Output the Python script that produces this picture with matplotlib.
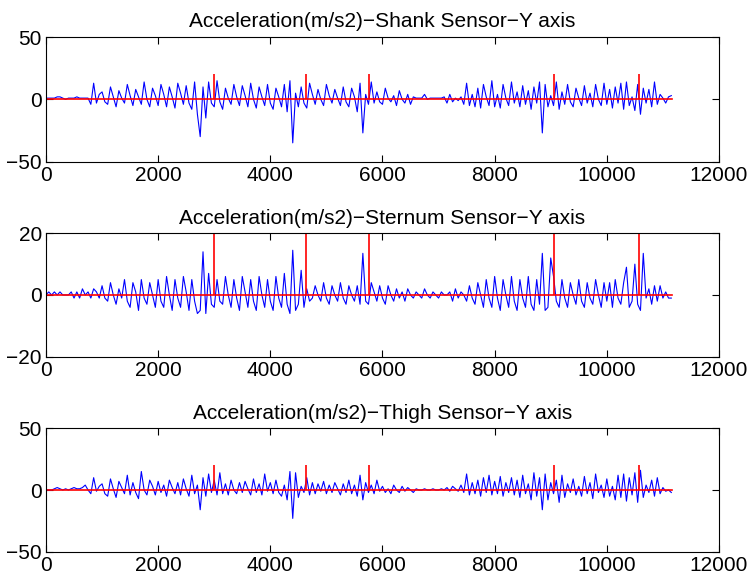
import numpy as np
import matplotlib
matplotlib.use("Agg")
from matplotlib import pyplot as plt

plt.rcParams['font.family'] = ['Liberation Sans', 'DejaVu Sans']

step = 50  # samples between read-off points

shank = [1, 1, 1, 1, 2, 2, 1, 0, 1, 1, 1, 2, 1, 1, 1, 1, -4, 13, -3, 4,
         6, -2, -4, 10, 2, -6, 7, 1, -3, 12, 3, -5, 8, 2, -4, 14, 0, -6, 9, 3,
         -5, 12, 4, -6, 10, 2, -7, 13, 5, -4, 11, -3, -8, 14, -12, -30, 10, -15, 14, -3,
         -6, 15, -2, -8, 9, 1, -4, 12, 2, -5, 11, 3, -6, 13, 0, -7, 10, 2, -5, 12,
         -3, -8, 9, 2, -6, 12, -10, 15, -35, 5, -6, 10, -3, -7, 13, 4, -4, 8, 0, -5,
         12, 3, -3, 8, 1, -5, 10, -2, -6, 9, 2, -10, 13, -27, 4, -4, 14, -3, 6, -2,
         -4, 9, 1, -2, 3, -5, 7, 0, -3, 4, -4, 2, 1, 1, 1, 4, 0, 1, 1, 1,
         1, 1, 2, -3, 4, -2, 1, -1, 2, -4, 13, -5, 4, -6, 9, -7, 12, 2, -5, 15,
         -6, 4, -7, 12, 1, -5, 14, -3, 6, -6, 11, -4, 7, -8, 10, -3, 14, -27, 12, -6,
         3, -5, 14, -8, 6, -4, 12, -2, -6, 9, 1, -5, 11, -3, 5, -6, 12, 0, -5, 13,
         -4, 8, -7, 10, -3, 13, -8, 14, -5, 2, -9, 12, -12, 9, -3, 8, -6, 14, -4, 4,
         1, -3, 2, 3]

sternum = [0, 1, 0, 1, 0, 1, 0, 0, 0, 1, -1, 1, -1, 2, 0, 1, -1, 2, 1, -1,
           3, -1, -2, 4, 0, -3, 2, -1, 5, -2, -4, 4, 1, -5, 5, -1, -3, 4, 0, -4,
           5, -2, -4, 6, 0, -5, 5, -1, -4, 6, 1, -5, 5, -2, -6, -5, 14, -6, 7, -3,
           -4, 5, -2, -3, 6, 0, -4, 5, -1, -5, 6, 1, -4, 5, -2, -5, 6, 0, -4, 5,
           -2, -5, 6, -1, -4, 7, -3, -6, 14.5, -5, -3, 8, -4, 2, -2, -1, 3, 0, -2, 4,
           -1, -3, 3, 0, -2, 4, -1, -3, 3, 0, -2, 3, -3, 13.5, -2, -3, 4, 1, -2, 3,
           -1, -3, 3, 0, -2, 2, -1, 1, -2, 2, 0, -1, 1, 0, -1, 2, 0, -1, 1, 0,
           -1, 1, 0, 0, 1, -2, 2, -1, 1, 0, -2, 3, -1, -3, 4, 0, -4, 5, -1, -4,
           6, -1, -5, 5, 0, -4, 6, -2, -5, 5, -1, -4, 6, -3, -5, 5, -3, 13.5, -5, -4,
           12, 6, -2, -4, 5, -1, -4, 4, 0, -3, 5, -2, -4, 4, -1, -3, 5, 0, -4, 4,
           -2, 4, -4, 5, -1, -3, 4, 9, -4, -2, 10, -3, -5, 13.5, -1, 2, -3, 3, -2, 3,
           -1, 1, -1, -1]

thigh = [0, 0, 0, 1, 2, 1, 0, 1, 0, 1, 2, 1, 1, 2, 4, 0, -3, 10, -1, 3,
         5, -3, -5, 9, 1, -6, 7, 2, -3, 12, -4, 6, -2, -7, 15, 0, -4, 8, 3, -4,
         7, -2, 4, -5, 8, 2, -3, 6, -4, 9, 1, -5, 12, -3, 4, -16, 10, -5, 13, -2,
         8, -4, 14, -3, 5, -4, 8, 0, -3, 6, -2, 7, 1, -4, 9, -2, 5, -4, 13, -1,
         6, -3, 8, -2, -5, 4, -8, 15, -23, 14, -6, 3, -2, 10, -4, 6, -3, 5, -1, 7,
         -3, 4, -2, 6, 1, -4, 5, -2, 8, -3, 4, -5, 12, -8, 6, -2, 4, -3, 8, -1,
         3, -2, 1, -3, 4, 0, -2, 3, -1, 2, 0, -2, 1, 0, 0, 1, 0, 0, 1, 0,
         0, 1, 0, 2, -1, 3, 1, -1, 4, -2, 13, -4, 6, -3, 8, -5, 10, -2, 12, -4,
         7, -3, 11, -5, 6, -2, 10, -4, 8, -6, 12, -3, 5, -8, 14, -5, 10, -16, 13, -8,
         6, -3, 8, -10, 12, -6, 5, -2, 9, -4, 3, -5, 11, -3, 6, -7, 13, -2, 4, -6,
         9, -5, 3, -8, 12, -6, 13, -9, 10, -4, 14, -10, 16, -6, 4, -2, 8, -5, 10, -3,
         2, -1, 0, -2]

# red marker line: spikes of height 20 at these samples
marks = [0, 2990, 4630, 5760, 9060, 10570]
mark_h = 20
end_x = 11160

titles = ['Acceleration(m/s2)\u2212Shank Sensor\u2212Y axis',
          'Acceleration(m/s2)\u2212Sternum Sensor\u2212Y axis',
          'Acceleration(m/s2)\u2212Thigh Sensor\u2212Y axis']
ylims = [(-50, 50), (-20, 20), (-50, 50)]
yticks = [[-50, 0, 50], [-20, 0, 20], [-50, 0, 50]]

fig = plt.figure(figsize=(7.55, 5.86), dpi=100)
boxes = [[0.0609, 0.7244, 0.8914, 0.2121],
         [0.0609, 0.3913, 0.8914, 0.2106],
         [0.0609, 0.0585, 0.8914, 0.2106]]

for i, sig in enumerate([shank, sternum, thigh]):
    ax = fig.add_axes(boxes[i])
    x = np.arange(len(sig)) * step
    ax.plot(x, sig, color=(0, 0, 1), lw=0.8)
    ax.plot([0, end_x], [0, 0], color=(1, 0, 0), lw=1.2)
    ax.vlines(marks, 0, mark_h, color=(1, 0, 0), lw=1.2)
    ax.set_xlim(0, 12000)
    ax.set_ylim(*ylims[i])
    ax.set_xticks([0, 2000, 4000, 6000, 8000, 10000, 12000])
    ax.set_yticks(yticks[i])
    ax.tick_params(direction='in', top=True, right=True, labelsize=15, length=5, width=0.8, pad=3)
    for s in ax.spines.values():
        s.set_linewidth(0.8)
    ax.set_title(titles[i], fontsize=15, pad=7)

plt.savefig('out.png', dpi=100)
